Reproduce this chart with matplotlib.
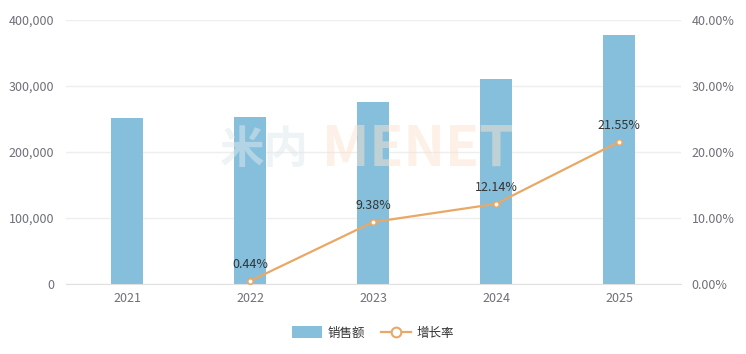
import numpy as np
import matplotlib
matplotlib.use("Agg")
import matplotlib.pyplot as plt
from matplotlib.ticker import FuncFormatter, FixedLocator
from matplotlib.lines import Line2D
from matplotlib.patches import FancyBboxPatch

plt.rcParams['font.family'] = ['Noto Sans CJK SC', 'DejaVu Sans']

years = ['2021', '2022', '2023', '2024', '2025']
sales = [251500, 252600, 276300, 309850, 376600]
growth = [None, 0.44, 9.38, 12.14, 21.55]

bar_color = '#86bfdc'
line_color = '#e9a866'
tick_color = '#6e7079'

fig = plt.figure(figsize=(7.46, 3.54), dpi=100)
ax = fig.add_axes([65.5 / 746, 70 / 354, 615 / 746, 264 / 354])
ax2 = ax.twinx()

x = np.arange(len(years))
ax.bar(x, sales, width=0.26, color=bar_color, zorder=2)
ax.set_xlim(-0.5, len(years) - 0.5)
ax.set_ylim(0, 400000)
ax.yaxis.set_major_locator(FixedLocator([0, 100000, 200000, 300000, 400000]))
ax.yaxis.set_major_formatter(FuncFormatter(lambda v, p: f'{int(v):,}'))
ax.set_xticks(x)
ax.set_xticklabels(years)
ax.grid(axis='y', color='#eeeeee', linewidth=1, zorder=0)
for s in ax.spines.values():
    s.set_visible(False)
for s in ax2.spines.values():
    s.set_visible(False)
ax.spines['bottom'].set_visible(True)
ax.spines['bottom'].set_color('#e0e0e0')
ax.tick_params(axis='y', length=0, pad=8, labelsize=9, labelcolor=tick_color)
ax.tick_params(axis='x', length=0, pad=6, labelsize=9, labelcolor=tick_color)

gx = [i for i, g in enumerate(growth) if g is not None]
gy = [g for g in growth if g is not None]
ax2.plot(gx, gy, color=line_color, linewidth=1.6, marker='o', markersize=4,
         markerfacecolor='white', markeredgecolor=line_color, markeredgewidth=1.2, zorder=3)
for xi, yi in zip(gx, gy):
    ax2.annotate(f'{yi:.2f}%', (xi, yi), xytext=(0, 7), textcoords='offset points',
                 ha='center', va='bottom', fontsize=9, color='#333333')
ax2.set_ylim(0, 40)
ax2.yaxis.set_major_locator(FixedLocator([0, 10, 20, 30, 40]))
ax2.yaxis.set_major_formatter(FuncFormatter(lambda v, p: f'{v:.2f}%'))
ax2.tick_params(axis='y', length=0, pad=8, labelsize=9, labelcolor=tick_color)

# watermark
fig.text(220 / 746, 1 - 150 / 354, '米内', fontsize=32, fontweight='bold',
         color='#dfe9ee', alpha=0.5, ha='left', va='center', zorder=0)
fig.text(322 / 746, 1 - 150 / 354, 'MENET', fontsize=40, fontweight='bold',
         color='#fbe3d0', alpha=0.5, ha='left', va='center', zorder=0)

# legend
handles = [
    FancyBboxPatch((0, 0), 1, 1, boxstyle='round,pad=0,rounding_size=0.2',
                   facecolor=bar_color, edgecolor='none'),
    Line2D([0], [0], color=line_color, linewidth=1.6, marker='o', markersize=7,
           markerfacecolor='white', markeredgecolor=line_color, markeredgewidth=1.5),
]
fig.legend(handles, ['销售额', '增长率'], loc='center', bbox_to_anchor=(0.5, 1 - 333 / 354),
           ncol=2, frameon=False, fontsize=9, handlelength=2.4, handleheight=1.1,
           columnspacing=1.2, handletextpad=0.5, labelcolor='#333333')

fig.savefig('out.png', dpi=100)
